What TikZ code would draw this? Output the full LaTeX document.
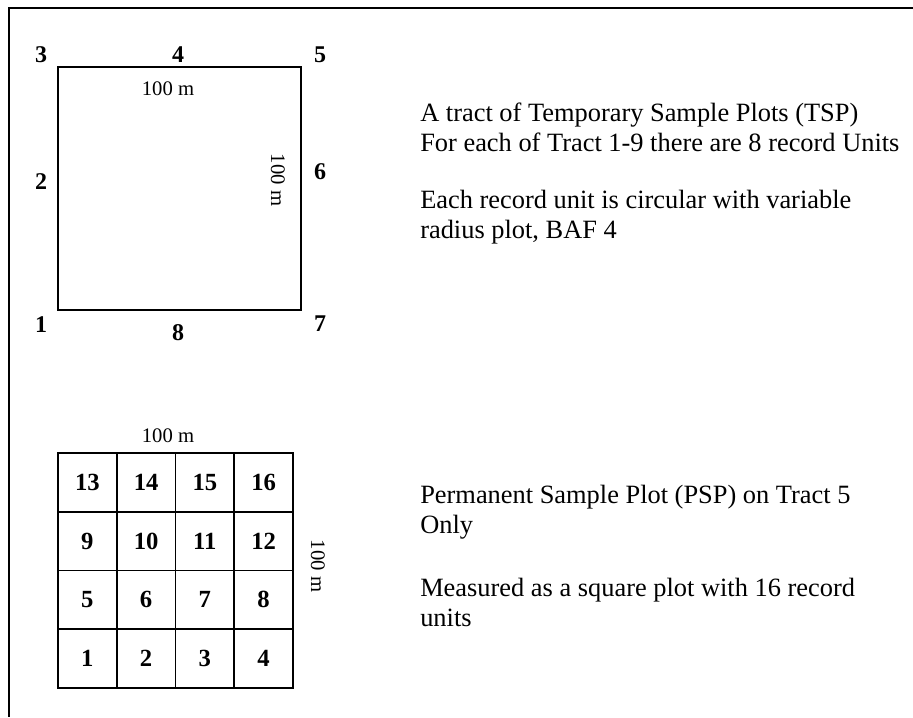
\documentclass[tikz,border=0pt]{standalone}
\usepackage{fontspec}
\setmainfont{Liberation Serif}
\usetikzlibrary{positioning}
\tikzset{
  num/.style={font=\fontsize{18}{21}\selectfont\bfseries, inner sep=0pt},
  dimlabel/.style={font=\fontsize{15.5}{18}\selectfont, inner sep=0pt},
  note/.style={font=\fontsize{19.8}{22.5}\selectfont, align=left, anchor=west, inner sep=0pt},
  unitcell/.style={draw, line width=1.2pt, minimum size=44.06pt, inner sep=0pt,
    font=\fontsize{18.5}{21}\selectfont\bfseries}
}

\begin{document}
\begin{tikzpicture}[x=0.75pt, y=-0.75pt]
    \useasboundingbox (0,0) rectangle (913,717);
    % outer frame, open at right and bottom
    \draw[line width=1pt] (913,8) -- (9,8) -- (9,717);

    % tract of temporary sample plots
    \node[draw, line width=1.2pt, minimum size=182.25pt, inner sep=0pt] (tract) at (179.5,188.5) {};
    \node[num] (T3) at (41,55)  {3};
    \node[num] (T4) at (178,55) {4};
    \node[num] (T5) at (320,55) {5};
    \node[num] (T2) at (41,182) {2};
    \node[num] (T6) at (320,172) {6};
    \node[num] (T1) at (41,325) {1};
    \node[num] (T8) at (178,333) {8};
    \node[num] (T7) at (320,324) {7};
    \node[dimlabel] (tw) at (168,89) {100 m};
    \node[dimlabel, rotate=-90] (th) at (278,180) {100 m};

    % permanent sample plot, 16 record units
    \foreach \r in {0,...,3}
      \foreach \c in {1,...,4} {
        \pgfmathtruncatemacro{\n}{4*\r+\c}
        \node[unitcell] (U\n) at ({58+58.75*(\c-0.5)},{688-58.75*(\r+0.5)}) {\n};
      }
    \node[dimlabel] (pw) at (168,436) {100 m};
    \node[dimlabel, rotate=-90] (ph) at (318,566) {100 m};

    % notes
    \node[note] (tsp) at (420,127) {A tract of Temporary Sample Plots (TSP)\\For each of Tract 1-9 there are 8 record Units};
    \node[note] (baf) at (420,217) {Each record unit is circular with variable\\radius plot, BAF 4};
    \node[note] (psp) at (420,512) {Permanent Sample Plot (PSP) on Tract 5\\Only};
    \node[note] (sq)  at (420,602.5) {Measured as a square plot with 16 record\\units};
\end{tikzpicture}
\end{document}
